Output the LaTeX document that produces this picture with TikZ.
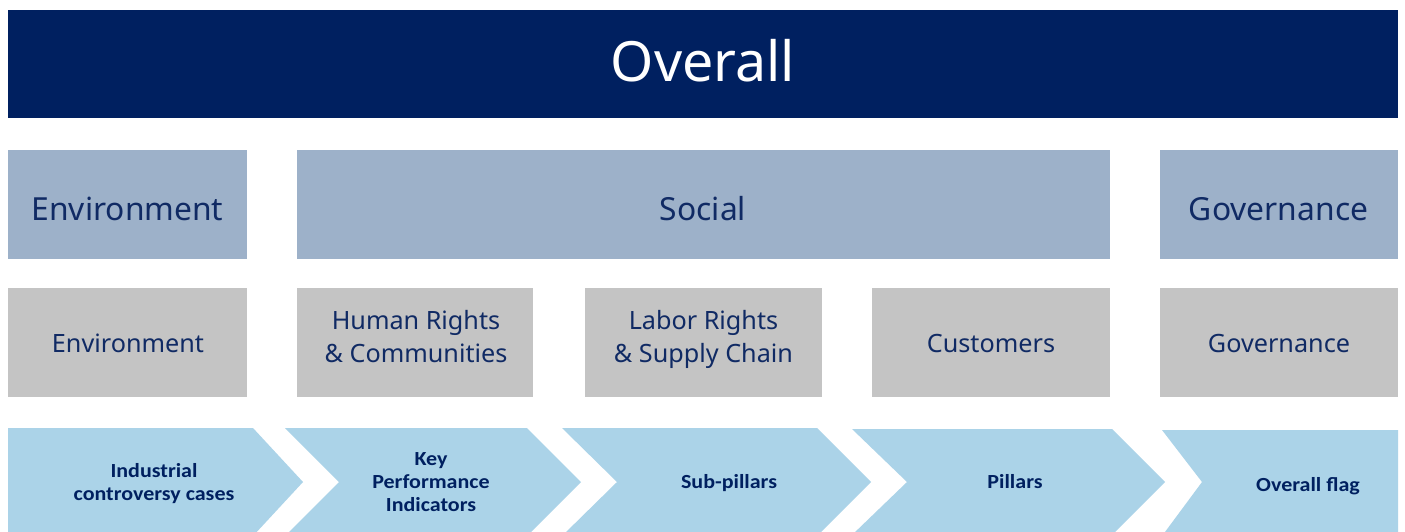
\documentclass[tikz,border=0pt]{standalone}
\usepackage{fontspec}
\setmainfont{Noto Sans}
\newfontfamily\chevfont{Carlito}[FakeStretch=1.1]
\definecolor{overallblue}{RGB}{0,32,96}
\definecolor{pillarblue}{RGB}{157,177,201}
\definecolor{subgrey}{RGB}{196,196,196}
\definecolor{chevblue}{RGB}{171,211,232}
\definecolor{txtnavy}{RGB}{16,42,100}
\newcommand{\mlines}[1]{\begin{tabular}[t]{@{}c@{}}#1\end{tabular}}
\begin{document}
\begin{tikzpicture}[x=1pt,y=-1pt,
  boxbase/.style={draw=none, inner sep=0pt, outer sep=0pt},
  overallbox/.style={boxbase, fill=overallblue},
  pillarbox/.style={boxbase, fill=pillarblue},
  subbox/.style={boxbase, fill=subgrey},
  chevshape/.style={fill=chevblue},
  overalltext/.style={anchor=base, inner sep=0pt, text=white, font=\fontsize{55.5pt}{66pt}\selectfont},
  pillartext/.style={anchor=base, inner sep=0pt, text=txtnavy, font=\fontsize{31.8pt}{38pt}\selectfont},
  subtext/.style={anchor=base, inner sep=0pt, text=txtnavy, font=\fontsize{25.2pt}{33pt}\selectfont},
  chevtext/.style={anchor=base, inner sep=0pt, text=overallblue, font=\chevfont\bfseries\fontsize{20pt}{23pt}\selectfont},
]
\clip (0,0) rectangle (1405,531);
\fill[white] (0,0) rectangle (1405,531);

% top bar
\node[overallbox, minimum width=1390pt, minimum height=108pt] (overall) at (703,64) {};
\node[overalltext] (overallT) at (703,81.5) {Overall};

% pillars
\node[pillarbox, minimum width=239pt, minimum height=109pt] (envP) at (127.5,204.5) {};
\node[pillarbox, minimum width=813pt, minimum height=109pt] (socP) at (703.5,204.5) {};
\node[pillarbox, minimum width=238pt, minimum height=109pt] (govP) at (1279,204.5) {};
\node[pillartext] (envPT) at (127.5,220) {Environment};
\node[pillartext] (socPT) at (703,220) {Social};
\node[pillartext] (govPT) at (1278.5,220) {Governance};

% sub-pillars
\node[subbox, minimum width=239pt, minimum height=109pt] (envS) at (127.5,342.5) {};
\node[subbox, minimum width=236pt, minimum height=109pt] (humS) at (415,342.5) {};
\node[subbox, minimum width=237pt, minimum height=109pt] (labS) at (703.5,342.5) {};
\node[subbox, minimum width=238pt, minimum height=109pt] (cusS) at (991,342.5) {};
\node[subbox, minimum width=238pt, minimum height=109pt] (govS) at (1279,342.5) {};
\node[subtext] (envST) at (128,352) {Environment};
\node[subtext] (humST) at (416,329) {\mlines{Human Rights\\\& Communities}};
\node[subtext] (labST) at (703.5,329) {\mlines{Labor Rights\\\& Supply Chain}};
\node[subtext] (cusST) at (991,352) {Customers};
\node[subtext] (govST) at (1279,352) {Governance};

% chevrons
\fill[chevshape] (8,428) -- (253,428) -- (303,482) -- (253,536) -- (8,536) -- cycle;
\fill[chevshape] (285,428) -- (527,428) -- (581,482) -- (527,536) -- (285,536) -- (339,482) -- cycle;
\fill[chevshape] (562,428) -- (817,428) -- (871,482) -- (817,536) -- (562,536) -- (617,482) -- cycle;
\fill[chevshape] (852,429) -- (1112,429) -- (1165,482) -- (1112,535) -- (852,535) -- (907,482) -- cycle;
\fill[chevshape] (1162,430) -- (1398,430) -- (1398,536) -- (1162,536) -- (1202,482) -- cycle;

\node[chevtext] (c1) at (154,477) {\mlines{Industrial\\controversy cases}};
\node[chevtext] (c2) at (431,465) {\mlines{Key\\Performance\\Indicators}};
\node[chevtext] (c3) at (729,488) {Sub-pillars};
\node[chevtext] (c4) at (1015,488) {Pillars};
\node[chevtext] (c5) at (1308,491) {Overall flag};
\end{tikzpicture}
\end{document}
